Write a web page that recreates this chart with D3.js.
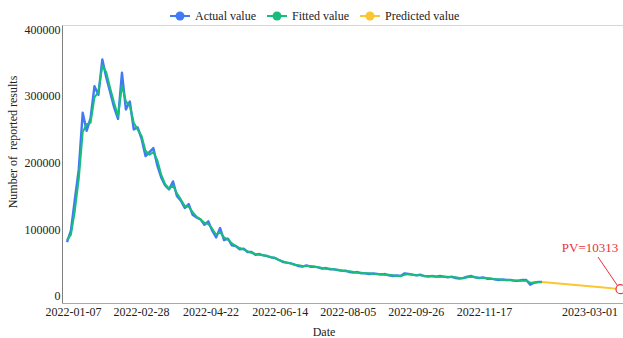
<!DOCTYPE html>
<html>
<head>
<meta charset="utf-8">
<script src="https://cdn.jsdelivr.net/npm/d3@7/dist/d3.min.js"></script>
<style>
  html, body { margin: 0; padding: 0; background: #fff; }
  svg { display: block; }
  svg text { font-family: "Liberation Serif", "Times New Roman", Times, serif; }
</style>
</head>
<body>
<svg id="chart" width="623" height="338"></svg>
<script>
// Daily reported results, sampled every 3 days from the first date
const startDate = "2022-01-02";
const stepDays = 3;

const actualValues = [
  81000, 98000, 145000, 190000, 275000, 248000, 267000, 315000, 302000, 355000,
  328000, 306000, 283000, 266000, 335000, 280000, 292000, 250000, 253000, 236000,
  210000, 216000, 222000, 196000, 178000, 166000, 160000, 172000, 150000, 143000,
  132000, 138000, 122000, 118000, 115000, 107000, 112000, 98000, 88000, 102000,
  84000, 86000, 76000, 75000, 70000, 71000, 66000, 66000, 62000, 63000,
  61000, 60000, 58000, 57000, 54000, 51000, 50000, 49000, 47000, 45000,
  44000, 46000, 44000, 44000, 43000, 41000, 42000, 40000, 40000, 39000,
  38000, 38000, 36000, 35000, 36000, 34000, 34000, 33000, 34000, 33000,
  32000, 33000, 31000, 30000, 31000, 30000, 34000, 33000, 32000, 31000,
  32000, 30000, 29000, 30000, 29000, 30000, 29000, 28000, 29000, 27000,
  26000, 27000, 29000, 30000, 28000, 27000, 28000, 26000, 26000, 25000,
  24000, 25000, 24000, 24000, 23000, 23000, 24000, 24000, 17000, 20000,
  21000, 21000
];

const fittedValues = [
  84000, 92000, 128000, 176000, 246000, 258000, 260000, 298000, 306000, 346000,
  336000, 312000, 290000, 270000, 316000, 292000, 286000, 260000, 250000, 240000,
  218000, 212000, 216000, 204000, 182000, 168000, 161000, 166000, 154000, 145000,
  135000, 134000, 126000, 119000, 115000, 110000, 108000, 101000, 92000, 96000,
  88000, 85000, 79000, 75000, 72000, 70000, 67000, 65000, 63000, 62000,
  61000, 60000, 58000, 57000, 54000, 52000, 50000, 49000, 47000, 46000,
  45000, 45000, 45000, 44000, 43000, 42000, 41000, 41000, 40000, 39000,
  38000, 37000, 37000, 36000, 35000, 35000, 34000, 34000, 33000, 33000,
  33000, 32000, 32000, 31000, 30000, 30000, 32000, 33000, 32000, 31000,
  31000, 30000, 30000, 30000, 29000, 29000, 29000, 29000, 28000, 28000,
  27000, 27000, 28000, 29000, 28000, 27000, 27000, 27000, 26000, 25000,
  25000, 24000, 24000, 24000, 23000, 23000, 23000, 23000, 20000, 20000,
  21000, 21000
];

// Forecast continuing from the last observed day
const predictedDates = ["2022-12-31", "2023-01-15", "2023-01-30", "2023-02-14", "2023-03-01"];
const predictedValues = [21000, 18300, 15700, 13000, 10313];

const xTickLabels = ["2022-01-07", "2022-02-28", "2022-04-22", "2022-06-14",
                     "2022-08-05", "2022-09-26", "2022-11-17", "2023-03-01"];
const yTickValues = [0, 100000, 200000, 300000, 400000];

const seriesNames = ["Actual value", "Fitted value", "Predicted value"];
const seriesColors = ["#4279f5", "#17bd7b", "#fcc532"];

const parse = d3.timeParse("%Y-%m-%d");
const t0 = parse(startDate);
const sampleDates = actualValues.map((_, i) => d3.timeDay.offset(t0, i * stepDays));

const actual = sampleDates.map((d, i) => ({ date: d, value: actualValues[i] }));
const fitted = sampleDates.map((d, i) => ({ date: d, value: fittedValues[i] }));
const predicted = predictedDates.map((d, i) => ({ date: parse(d), value: predictedValues[i] }));

const FONT = "'Liberation Serif', 'Times New Roman', Times, serif";
const svg = d3.select("#chart").attr("font-family", FONT);

const frame = { left: 62.5, right: 623, top: 25.5, bottom: 303.5 };

const x = d3.scaleTime()
  .domain([t0, parse("2023-03-01")])
  .range([67, 620.5]);

const y = d3.scaleLinear()
  .domain([0, 400000])
  .range([296, 29.5]);

// Frame lines
svg.append("line")
  .attr("x1", frame.left).attr("x2", frame.right)
  .attr("y1", frame.top).attr("y2", frame.top)
  .attr("stroke", "#d6d6d6").attr("stroke-width", 1);
svg.append("line")
  .attr("x1", frame.left).attr("x2", frame.right)
  .attr("y1", frame.bottom).attr("y2", frame.bottom)
  .attr("stroke", "#a8a8a8").attr("stroke-width", 1);
svg.append("line")
  .attr("x1", frame.left).attr("x2", frame.left)
  .attr("y1", frame.top).attr("y2", frame.bottom)
  .attr("stroke", "#808080").attr("stroke-width", 1);

// Y axis labels
const yAxis = d3.axisLeft(y).tickValues(yTickValues).tickSize(0).tickPadding(2)
  .tickFormat(d3.format("d"));
const yG = svg.append("g").attr("transform", `translate(${frame.left},0)`).call(yAxis)
  .attr("font-family", FONT).attr("font-size", 12);
yG.select(".domain").remove();
yG.selectAll("text").attr("fill", "#222");

// X axis labels
const xG = svg.append("g");
xG.selectAll("text")
  .data(xTickLabels)
  .join("text")
  .attr("x", d => x(parse(d)))
  .attr("y", 316)
  .attr("text-anchor", "middle")
  .attr("font-family", FONT)
  .attr("font-size", 12)
  .attr("fill", "#222")
  .text(d => d)
  .each(function () {
    const w = this.getComputedTextLength();
    const cx = +this.getAttribute("x");
    if (cx + w / 2 > 618) this.setAttribute("x", 618 - w / 2);
  });

// Axis titles
svg.append("text")
  .attr("x", 324).attr("y", 336)
  .attr("text-anchor", "middle")
  .attr("font-family", FONT)
  .attr("font-size", 12)
  .attr("fill", "#222")
  .text("Date");

svg.append("text")
  .attr("transform", "translate(17,142) rotate(-90)")
  .attr("text-anchor", "middle")
  .attr("font-family", FONT)
  .attr("font-size", 12)
  .attr("fill", "#222")
  .style("white-space", "pre")
  .text("Number of  reported results");

// Lines
const line = d3.line().x(d => x(d.date)).y(d => y(d.value));

svg.append("path").datum(predicted)
  .attr("fill", "none").attr("stroke", seriesColors[2])
  .attr("stroke-width", 2).attr("d", line);
svg.append("path").datum(actual)
  .attr("fill", "none").attr("stroke", seriesColors[0])
  .attr("stroke-width", 2.4).attr("stroke-linejoin", "round").attr("d", line);
svg.append("path").datum(fitted)
  .attr("fill", "none").attr("stroke", seriesColors[1])
  .attr("stroke-width", 2).attr("stroke-linejoin", "round").attr("d", line);

// Annotation on the last forecast point
const last = predicted[predicted.length - 1];
const px = x(last.date), py = y(last.value);
svg.append("line")
  .attr("x1", 598).attr("y1", 257)
  .attr("x2", px - 3).attr("y2", py - 3.5)
  .attr("stroke", "#e8323c").attr("stroke-width", 1);
svg.append("circle")
  .attr("cx", px).attr("cy", py).attr("r", 4.5)
  .attr("fill", "#fff").attr("stroke", "#e8323c").attr("stroke-width", 1.2);
svg.append("text")
  .attr("x", 590).attr("y", 252)
  .attr("text-anchor", "middle")
  .attr("font-family", FONT)
  .attr("font-size", 13)
  .attr("fill", "#e8323c")
  .text("PV=" + last.value);

// Legend
const legendX = [180, 277, 370];
const lg = svg.append("g");
seriesNames.forEach((name, i) => {
  const cx = legendX[i];
  lg.append("line")
    .attr("x1", cx - 10).attr("x2", cx + 10)
    .attr("y1", 16).attr("y2", 16)
    .attr("stroke", seriesColors[i]).attr("stroke-width", 2);
  lg.append("circle")
    .attr("cx", cx).attr("cy", 16).attr("r", 4.5)
    .attr("fill", seriesColors[i]);
  lg.append("text")
    .attr("x", cx + 15).attr("y", 20)
    .attr("font-family", FONT)
    .attr("font-size", 12)
    .attr("fill", "#222")
    .text(name);
});
</script>
</body>
</html>
